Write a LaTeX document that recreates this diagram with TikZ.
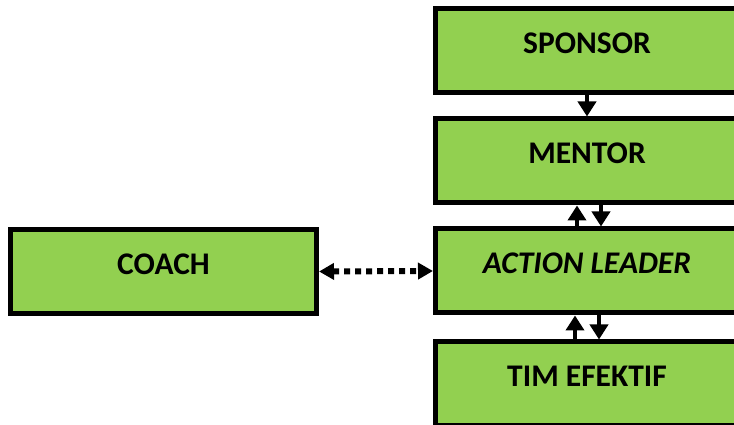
\documentclass[tikz,border=0pt]{standalone}
\usepackage{fontspec}
\setmainfont{Carlito}
\usetikzlibrary{arrows.meta}
\definecolor{boxgreen}{RGB}{146,208,80}
\tikzset{
  box/.style={draw=black, fill=boxgreen, line width=5pt, minimum width=303pt,
    minimum height=84pt, inner sep=0pt, text height=20pt, text depth=14pt,
    font=\fontsize{31.5}{38}\selectfont\bfseries},
  arr/.style={line width=4.5pt, -{Triangle[width=18pt,length=15pt]}},
  dotarr/.style={line width=6pt, dash pattern=on 6pt off 5pt,
    {Triangle[width=16pt,length=15pt]}-{Triangle[width=16pt,length=15pt]}}
}
\begin{document}
\begin{tikzpicture}[x=1pt,y=1pt]
\useasboundingbox (0,0) rectangle (734,425);
\node[box] (s) at (587,374) {SPONSOR};
\node[box] (m) at (587,264) {MENTOR};
\node[box] (a) at (587,154) {\itshape ACTION LEADER};
\node[box] (t) at (587,41) {TIM EFEKTIF};
\node[box, minimum width=306pt] (c) at (163.5,153.5) {COACH};
\draw[arr] (s.south) -- (m.north);
\draw[arr] ([xshift=-10pt]a.north) -- ([xshift=-10pt]m.south);
\draw[arr] ([xshift=14pt]m.south) -- ([xshift=14pt]a.north);
\draw[arr] ([xshift=-12pt]t.north) -- ([xshift=-12pt]a.south);
\draw[arr] ([xshift=12pt]a.south) -- ([xshift=12pt]t.north);
\draw[dotarr] (c.east) -- (a.west);
\end{tikzpicture}
\end{document}
